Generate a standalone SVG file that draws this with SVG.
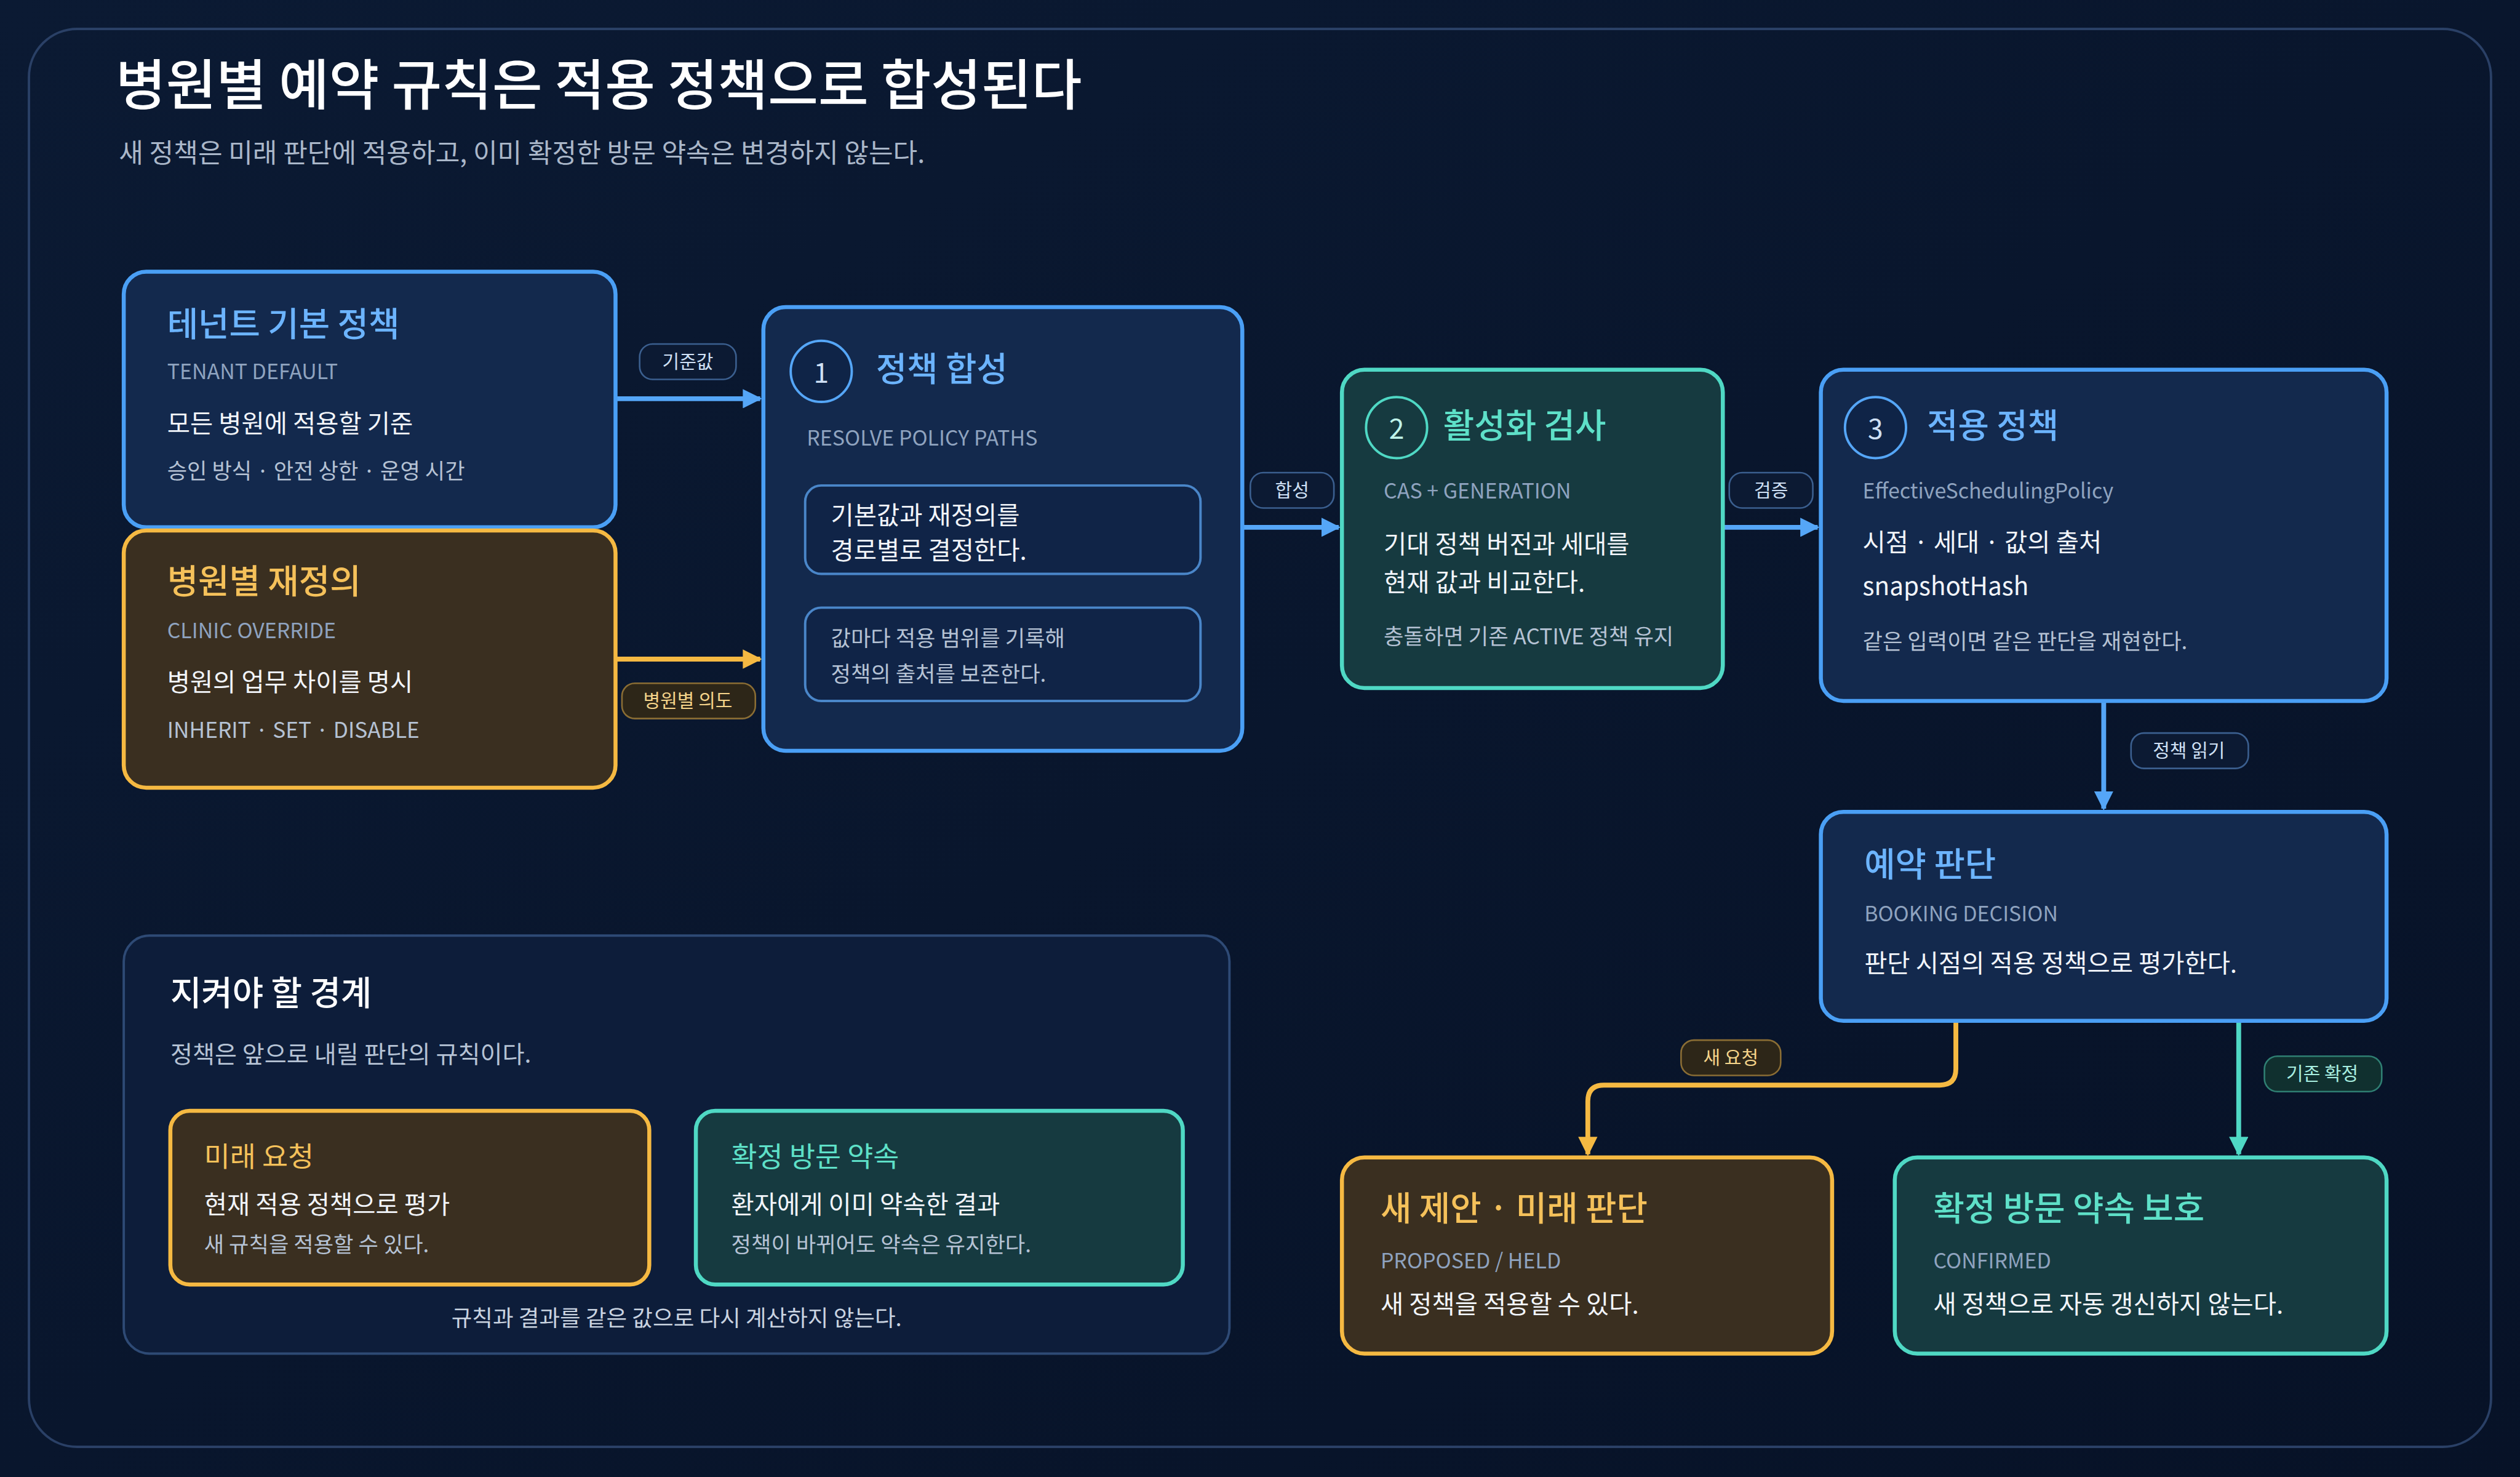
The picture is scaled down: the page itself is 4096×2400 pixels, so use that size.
<svg xmlns="http://www.w3.org/2000/svg" width="4096" height="2400" viewBox="0 0 4096 2400">
<defs>
<linearGradient id="bg" x1="0" y1="0" x2="1" y2="1"><stop offset="0" stop-color="#0b1a33"/><stop offset="1" stop-color="#071227"/></linearGradient>
<marker id="ab" viewBox="0 0 10 10" refX="9" refY="5" markerWidth="4" markerHeight="4" orient="auto"><path d="M0,0L10,5L0,10z" fill="#55a6f7"/></marker>
<marker id="ao" viewBox="0 0 10 10" refX="9" refY="5" markerWidth="4" markerHeight="4" orient="auto"><path d="M0,0L10,5L0,10z" fill="#f5b942"/></marker>
<marker id="at" viewBox="0 0 10 10" refX="9" refY="5" markerWidth="4" markerHeight="4" orient="auto"><path d="M0,0L10,5L0,10z" fill="#4fd8c4"/></marker>
<style>
text{font-family:"Noto Sans CJK KR","Noto Sans",sans-serif}
.blue{fill:#13294d;stroke:#4a9ff5;stroke-width:2.5}
.org{fill:#3a2f20;stroke:#f5b942;stroke-width:2.5}
.teal{fill:#163a40;stroke:#4fd8c4;stroke-width:2.5}
.inner{fill:#102447;stroke:#4a86c9;stroke-width:1.5}
.tb{fill:#6cb4ff;font-size:21px;font-weight:500}
.to{fill:#f5c15a;font-size:21px;font-weight:500}
.tt{fill:#5ee0c8;font-size:21px;font-weight:500}
.sub{fill:#8fa3bf;font-size:13px}
.w{fill:#f2f5fa;font-size:15.5px}
.g{fill:#b5c2d4;font-size:13.5px}
.cb{fill:#0f2447;stroke:#55a6f7;stroke-width:1.5}
.ct{fill:#163a40;stroke:#4fd8c4;stroke-width:1.5}
.num{font-size:17px;text-anchor:middle}
.lb{fill:#0c1a33;stroke:#3b5f8f;stroke-width:1}
.lo{fill:#2d2618;stroke:#8a6d34;stroke-width:1}
.lt{fill:#10302f;stroke:#2f7f73;stroke-width:1}
.lt2{font-size:11.5px;text-anchor:middle}
.cn{fill:none;stroke-width:3}
</style>
</defs>
<rect width="4096" height="2400" fill="url(#bg)"/>
<g transform="scale(2.6122)">
<rect x="18" y="18" width="1532" height="882" rx="30" fill="none" stroke="#2a4066" stroke-width="1.5"/>
<text x="72" y="65" fill="#ffffff" font-size="34" font-weight="500">병원별 예약 규칙은 적용 정책으로 합성된다</text>
<text x="74" y="101" fill="#aab7c9" font-size="16.5">새 정책은 미래 판단에 적용하고, 이미 확정한 방문 약속은 변경하지 않는다.</text>

<g id="connectors">
<path class="cn" d="M383,248H473" stroke="#55a6f7" marker-end="url(#ab)"/>
<path class="cn" d="M383,410H473" stroke="#f5b942" marker-end="url(#ao)"/>
<path class="cn" d="M773,328H833" stroke="#55a6f7" marker-end="url(#ab)"/>
<path class="cn" d="M1072,328H1131" stroke="#55a6f7" marker-end="url(#ab)"/>
<path class="cn" d="M1309,436V503" stroke="#55a6f7" marker-end="url(#ab)"/>
<path class="cn" d="M1217,635V665Q1217,675 1207,675H998Q988,675 988,685V718" stroke="#f5b942" marker-end="url(#ao)"/>
<path class="cn" d="M1393,635V718" stroke="#4fd8c4" marker-end="url(#at)"/>
<rect class="lb" x="398" y="214" width="60" height="22" rx="8"/><text class="lt2" x="428" y="229" fill="#cfe0f5">기준값</text>
<rect class="lo" x="387" y="425" width="83" height="22" rx="8"/><text class="lt2" x="428" y="440" fill="#f5d48a">병원별 의도</text>
<rect class="lb" x="778" y="294" width="52" height="22" rx="8"/><text class="lt2" x="804" y="309" fill="#cfe0f5">합성</text>
<rect class="lb" x="1076" y="294" width="52" height="22" rx="8"/><text class="lt2" x="1102" y="309" fill="#cfe0f5">검증</text>
<rect class="lb" x="1326" y="456" width="73" height="22" rx="8"/><text class="lt2" x="1362" y="471" fill="#cfe0f5">정책 읽기</text>
<rect class="lo" x="1046" y="647" width="62" height="22" rx="8"/><text class="lt2" x="1077" y="662" fill="#f5d48a">새 요청</text>
<rect class="lt" x="1409" y="657" width="73" height="22" rx="8"/><text class="lt2" x="1445" y="672" fill="#a8eee0">기존 확정</text>
</g>

<g id="tenant">
<rect class="blue" x="77" y="169" width="306" height="159" rx="14"/>
<text class="tb" x="104" y="209">테넌트 기본 정책</text>
<text class="sub" x="104" y="236">TENANT DEFAULT</text>
<text class="w" x="104" y="269">모든 병원에 적용할 기준</text>
<text class="g" x="104" y="298">승인 방식 · 안전 상한 · 운영 시간</text>
</g>
<g id="clinic">
<rect class="org" x="77" y="330" width="306" height="160" rx="14"/>
<text class="to" x="104" y="369">병원별 재정의</text>
<text class="sub" x="104" y="397" fill="#c9b98f">CLINIC OVERRIDE</text>
<text class="w" x="104" y="430">병원의 업무 차이를 명시</text>
<text class="g" x="104" y="459">INHERIT · SET · DISABLE</text>
</g>
<g id="resolve">
<rect class="blue" x="475" y="191" width="298" height="276" rx="14"/>
<circle class="cb" cx="511" cy="231" r="19"/><text class="num" x="511" y="238" fill="#cfe0f5">1</text>
<text class="tb" x="545" y="237">정책 합성</text>
<text class="sub" x="502" y="277">RESOLVE POLICY PATHS</text>
<rect class="inner" x="501" y="302" width="246" height="55" rx="10"/>
<text class="w" x="517" y="326" font-size="14.5">기본값과 재정의를</text>
<text class="w" x="517" y="348" font-size="14.5">경로별로 결정한다.</text>
<rect class="inner" x="501" y="378" width="246" height="58" rx="10"/>
<text class="g" x="517" y="402">값마다 적용 범위를 기록해</text>
<text class="g" x="517" y="424">정책의 출처를 보존한다.</text>
</g>
<g id="activation">
<rect class="teal" x="835" y="230" width="237" height="198" rx="14"/>
<circle class="ct" cx="869" cy="266" r="19"/><text class="num" x="869" y="273" fill="#bff3ea">2</text>
<text class="tt" x="898" y="272">활성화 검사</text>
<text class="sub" x="861" y="310" fill="#9cc7c2">CAS + GENERATION</text>
<text class="w" x="861" y="344" font-size="15">기대 정책 버전과 세대를</text>
<text class="w" x="861" y="368" font-size="15">현재 값과 비교한다.</text>
<text class="g" x="861" y="401" fill="#cfe6e2" font-size="13">충돌하면 기존 ACTIVE 정책 유지</text>
</g>
<g id="effective">
<rect class="blue" x="1133" y="230" width="352" height="206" rx="14"/>
<circle class="cb" cx="1167" cy="266" r="19"/><text class="num" x="1167" y="273" fill="#cfe0f5">3</text>
<text class="tb" x="1199" y="272">적용 정책</text>
<text class="sub" x="1159" y="310">EffectiveSchedulingPolicy</text>
<text class="w" x="1159" y="343">시점 · 세대 · 값의 출처</text>
<text class="w" x="1159" y="370">snapshotHash</text>
<text class="g" x="1159" y="404" font-size="13">같은 입력이면 같은 판단을 재현한다.</text>
</g>
<g id="booking">
<rect class="blue" x="1133" y="505" width="352" height="130" rx="14"/>
<text class="tb" x="1160" y="545">예약 판단</text>
<text class="sub" x="1160" y="573">BOOKING DECISION</text>
<text class="w" x="1160" y="605" font-size="15">판단 시점의 적용 정책으로 평가한다.</text>
</g>
<g id="proposal">
<rect class="org" x="835" y="720" width="305" height="122" rx="14"/>
<text class="to" x="859" y="759">새 제안 · 미래 판단</text>
<text class="sub" x="859" y="789" fill="#c9b98f">PROPOSED / HELD</text>
<text class="w" x="859" y="817" font-size="14">새 정책을 적용할 수 있다.</text>
</g>
<g id="confirmed">
<rect class="teal" x="1179" y="720" width="306" height="122" rx="14"/>
<text class="tt" x="1203" y="759">확정 방문 약속 보호</text>
<text class="sub" x="1203" y="789" fill="#9cc7c2">CONFIRMED</text>
<text class="w" x="1203" y="817" font-size="14">새 정책으로 자동 갱신하지 않는다.</text>
</g>
<g id="boundary">
<rect x="77" y="582" width="688" height="260" rx="16" fill="#0d1d3a" stroke="#2e4a75" stroke-width="1.5"/>
<text x="106" y="625" fill="#ffffff" font-size="21" font-weight="500">지켜야 할 경계</text>
<text x="106" y="661" fill="#b5c2d4" font-size="15">정책은 앞으로 내릴 판단의 규칙이다.</text>
<rect class="org" x="106" y="691" width="298" height="108" rx="12" stroke-width="2"/>
<text x="127" y="726" fill="#f5c15a" font-size="17.5">미래 요청</text>
<text class="w" x="127" y="755" font-size="13.5">현재 적용 정책으로 평가</text>
<text class="g" x="127" y="779" font-size="12.5">새 규칙을 적용할 수 있다.</text>
<rect class="teal" x="433" y="691" width="303" height="108" rx="12" stroke-width="2"/>
<text x="455" y="726" fill="#5ee0c8" font-size="17.5">확정 방문 약속</text>
<text class="w" x="455" y="755" font-size="13.5">환자에게 이미 약속한 결과</text>
<text class="g" x="455" y="779" font-size="12.5">정책이 바뀌어도 약속은 유지한다.</text>
<text x="421" y="825" fill="#c9d3e0" font-size="14" text-anchor="middle">규칙과 결과를 같은 값으로 다시 계산하지 않는다.</text>
</g>
</g>
</svg>
